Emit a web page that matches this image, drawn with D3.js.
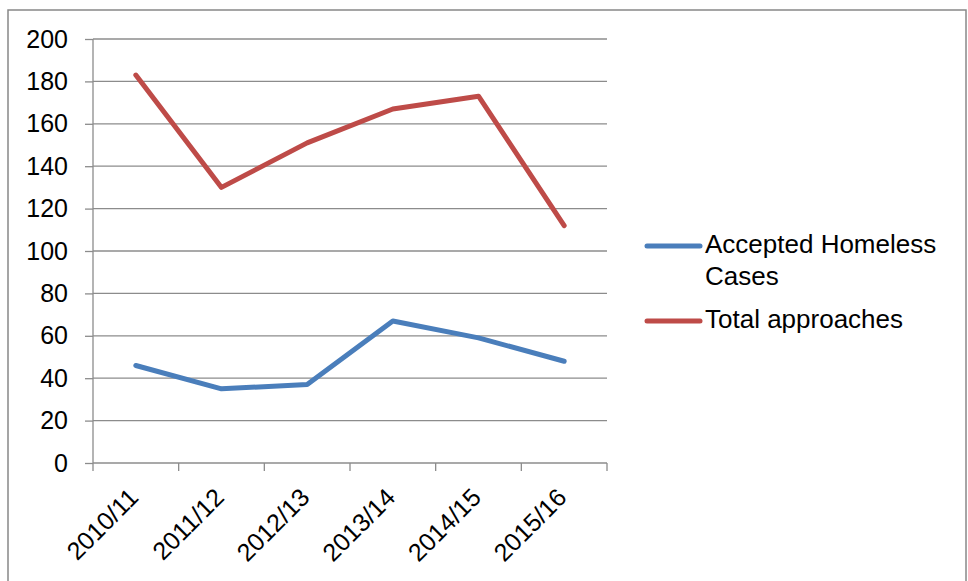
<!DOCTYPE html>
<html><head><meta charset="utf-8">
<script src="https://cdn.jsdelivr.net/npm/d3@7"></script>
<style>body{margin:0;background:#fff}svg{display:block}</style>
</head><body>
<script>
const categories = ["2010/11","2011/12","2012/13","2013/14","2014/15","2015/16"];
const accepted = [46,35,37,67,59,48];
const approaches = [183,130,151,167,173,112];
const yTicks = [0,20,40,60,80,100,120,140,160,180,200];
const seriesNames = ["Accepted Homeless Cases","Total approaches"];
const colors = ["#4a7ebb","#be4b48"];

const W=968,H=581;
const svg=d3.select("body").append("svg").attr("width",W).attr("height",H);
const font="Liberation Sans, Arial, sans-serif";
svg.append("rect").attr("x",8).attr("y",10).attr("width",958).attr("height",H)
  .attr("fill","none").attr("stroke","#888").attr("stroke-width",1.5);

const x0=93,x1=607,y0=463,y1=39;
const x=d3.scaleBand().domain(categories).range([x0,x1]);
const y=d3.scaleLinear().domain([0,200]).range([y0,y1]);

// gridlines
svg.append("g").selectAll("line").data(yTicks.filter(d=>d>0)).join("line")
  .attr("x1",x0).attr("x2",x1).attr("y1",d=>y(d)).attr("y2",d=>y(d))
  .attr("stroke","#8c8c8c").attr("stroke-width",1.3);

const ya=svg.append("g").attr("transform",`translate(${x0},0)`)
  .call(d3.axisLeft(y).tickValues(yTicks).tickSize(8).tickPadding(17));
ya.select(".domain").attr("stroke","#8c8c8c").attr("stroke-width",1.3).attr("d",`M-0,${y0}V${y1}`);
ya.selectAll(".tick line").attr("stroke","#8c8c8c").attr("stroke-width",1.3);
ya.selectAll("text").attr("font-family",font).attr("font-size",25).attr("fill","#000");

const xa=svg.append("g").attr("transform",`translate(0,${y0})`)
  .call(d3.axisBottom(x).tickSize(0).tickFormat(""));
xa.select(".domain").attr("stroke","#8c8c8c").attr("stroke-width",1.3).attr("d",`M${x0},0H${x1}`);
const bounds=categories.map(c=>x(c)).concat([x1]);
svg.append("g").selectAll("line").data(bounds).join("line")
  .attr("x1",d=>d).attr("x2",d=>d).attr("y1",y0).attr("y2",y0+8)
  .attr("stroke","#8c8c8c").attr("stroke-width",1.3);
svg.append("g").selectAll("text").data(categories).join("text")
  .attr("transform",d=>`translate(${x(d)+x.bandwidth()/2+4},${y0+36}) rotate(-45)`)
  .attr("text-anchor","end").attr("font-family",font).attr("font-size",25).attr("fill","#000")
  .text(d=>d);

const line=d3.line().x((d,i)=>x(categories[i])+x.bandwidth()/2).y(d=>y(d));
[accepted,approaches].forEach((s,k)=>{
  svg.append("path").datum(s).attr("d",line).attr("fill","none")
    .attr("stroke",colors[k]).attr("stroke-width",5).attr("stroke-linecap","round").attr("stroke-linejoin","round");
});

// legend
const lg=svg.append("g").attr("font-family",font).attr("font-size",26).attr("fill","#000");
lg.append("line").attr("x1",647).attr("x2",700).attr("y1",246).attr("y2",246)
  .attr("stroke",colors[0]).attr("stroke-width",5).attr("stroke-linecap","round");
lg.append("text").attr("x",705).attr("y",253).text("Accepted Homeless");
lg.append("text").attr("x",705).attr("y",285).text("Cases");
lg.append("line").attr("x1",647).attr("x2",700).attr("y1",321).attr("y2",321)
  .attr("stroke",colors[1]).attr("stroke-width",5).attr("stroke-linecap","round");
lg.append("text").attr("x",705).attr("y",328).text(seriesNames[1]);
</script>
</body></html>
